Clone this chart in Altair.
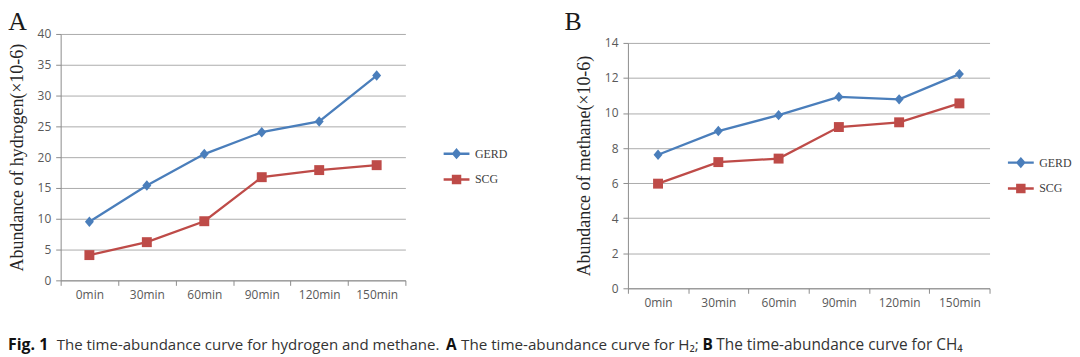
import altair as alt
import pandas as pd

# ---------------- data ----------------
times = ["0min", "30min", "60min", "90min", "120min", "150min"]
series = ["GERD", "SCG"]

h2_gerd = [9.5, 15.4, 20.5, 24.05, 25.8, 33.25]
h2_scg = [4.1, 6.2, 9.6, 16.75, 17.9, 18.7]

ch4_gerd = [7.62, 8.97, 9.88, 10.92, 10.78, 12.22]
ch4_scg = [5.97, 7.2, 7.4, 9.2, 9.47, 10.55]

h2_ticks = [0, 5, 10, 15, 20, 25, 30, 35, 40]
ch4_ticks = [0, 2, 4, 6, 8, 10, 12, 14]

colors = ["#4A7EBB", "#BE4B48"]

caption_parts = [
    ("Fig. 1", True),
    ("The time-abundance curve for hydrogen and methane.", False),
    ("A", True),
    ("The time-abundance curve for H\u2082;", False),
    ("B", True),
    ("The time-abundance curve for CH\u2084", False),
]

# ---------------- styling ----------------
SERIF = "Liberation Serif"
SANS = "Open Sans"
AXIS_GRAY = "#8c8c8c"
GRID_GRAY = "#ababab"
LABEL_GRAY = "#595959"

PT_DIAMOND = "M0,-1.05L0.9,0L0,1.05L-0.9,0Z"
PT_SQUARE = "M-1,-1H1V1H-1Z"
LEG_DIAMOND = "M-2.6,0H2.6M0,-0.75L0.65,0L0,0.75L-0.65,0Z"
LEG_SQUARE = "M-2.6,0H2.6M-0.7,-0.7H0.7V0.7H-0.7Z"


def long_table(gerd, scg):
    rows = []
    for t, g, s in zip(times, gerd, scg):
        rows.append({"time": t, "series": "GERD", "value": g})
        rows.append({"time": t, "series": "SCG", "value": s})
    return pd.DataFrame(rows)


def panel(gerd, scg, ticks, ymax, ytitle, letter, title_dx, title_dy,
          w, h, top_gap, lx, ly):
    df = long_table(gerd, scg)
    x = alt.X(
        "time:N",
        sort=times,
        bandPosition=0.5,
        scale=alt.Scale(type="band", paddingInner=0, paddingOuter=0),
        axis=alt.Axis(
            title=None, labelAngle=0, tickBand="extent", grid=False,
            labelFont=SANS, labelFontSize=12, labelColor=LABEL_GRAY,
            domainColor=AXIS_GRAY, tickColor=AXIS_GRAY, tickSize=5,
            labelPadding=4,
        ),
    )
    y = alt.Y(
        "value:Q",
        scale=alt.Scale(domain=[0, ymax], nice=False, zero=True,
                        range=[h, top_gap]),
        axis=alt.Axis(
            values=ticks, title=ytitle, grid=True, gridColor=GRID_GRAY,
            gridWidth=1, domainColor=AXIS_GRAY, tickColor=AXIS_GRAY,
            tickSize=5, labelFont=SANS, labelFontSize=12,
            labelColor=LABEL_GRAY, labelPadding=5, titleFont=SERIF,
            titleFontSize=18, titleFontWeight="normal", titleColor="#262626",
            titlePadding=11,
        ),
    )
    cscale = alt.Scale(domain=series, range=colors)
    line = alt.Chart(df).mark_line(strokeWidth=2.3).encode(
        x=x, y=y, color=alt.Color("series:N", scale=cscale, legend=None)
    )
    pts = alt.Chart(df).mark_point(filled=True, size=100, opacity=1).encode(
        x=x,
        y=y,
        color=alt.Color("series:N", scale=cscale, legend=None),
        shape=alt.Shape(
            "series:N",
            scale=alt.Scale(domain=series, range=[PT_DIAMOND, PT_SQUARE]),
            legend=None,
        ),
    )

    def leg():
        return alt.Legend(
            title=None, orient="none", legendX=lx, legendY=ly, padding=0,
            labelFont=SERIF, labelFontSize=12, labelColor="#404040",
            labelOffset=12, rowPadding=8, symbolSize=100,
            symbolStrokeWidth=2.5, symbolOpacity=1,
        )

    legend_layer = alt.Chart(df).transform_filter("false").mark_point(
        filled=True, size=100, opacity=1, strokeWidth=2.5
    ).encode(
        fill=alt.Fill("series:N", scale=alt.Scale(domain=series, range=colors),
                      legend=leg()),
        stroke=alt.Stroke("series:N",
                          scale=alt.Scale(domain=series, range=colors),
                          legend=leg()),
        shape=alt.Shape("series:N",
                        scale=alt.Scale(domain=series,
                                        range=[LEG_DIAMOND, LEG_SQUARE]),
                        legend=leg()),
    )
    return alt.layer(line, pts, legend_layer).resolve_scale(
        shape="independent", fill="independent", stroke="independent"
    ).properties(
        width=w,
        height=h,
        title=alt.TitleParams(
            letter, anchor="start", font=SERIF, fontSize=26,
            fontWeight="normal", color="#1a1a1a", dx=title_dx,
            dy=title_dy, offset=-7,
        ),
    )


chart_a = panel(h2_gerd, h2_scg, h2_ticks, 40,
                "Abundance of hydrogen(\u00d710-6)", "A", 0, 0,
                347, 248, 0, 392, 114)
chart_b = panel(ch4_gerd, ch4_scg, ch4_ticks, 14,
                "Abundance of methane(\u00d710-6)", "B", -11, -6,
                364, 256, 9, 389, 123)

# ---------------- caption ----------------
cap_x = [-53, -4, 388, 403, 646, 660]
cap_size = [16, 15.1, 15.5, 15.3, 15.5, 15.5]
cap_base = alt.Chart(pd.DataFrame({"k": [0]}))
cap_layers = []
for (txt, bold), xpos, fs in zip(caption_parts, cap_x, cap_size):
    cap_layers.append(
        cap_base.mark_text(
            text=txt, align="left", baseline="middle", font=SANS,
            fontSize=fs, fontWeight="bold" if bold else "normal",
            color="#111111" if bold else "#333333",
        ).encode(x=alt.value(xpos), y=alt.value(8))
    )
caption = alt.layer(*cap_layers).properties(width=950, height=16)

top = alt.hconcat(chart_a, chart_b, spacing=57)
chart = alt.vconcat(top, caption, spacing=29).properties(
    padding={"left": 0, "top": 0, "right": 0, "bottom": 0}
).configure_view(stroke=None)

chart.save("out.html", embed_options={"renderer": "svg", "actions": False})
